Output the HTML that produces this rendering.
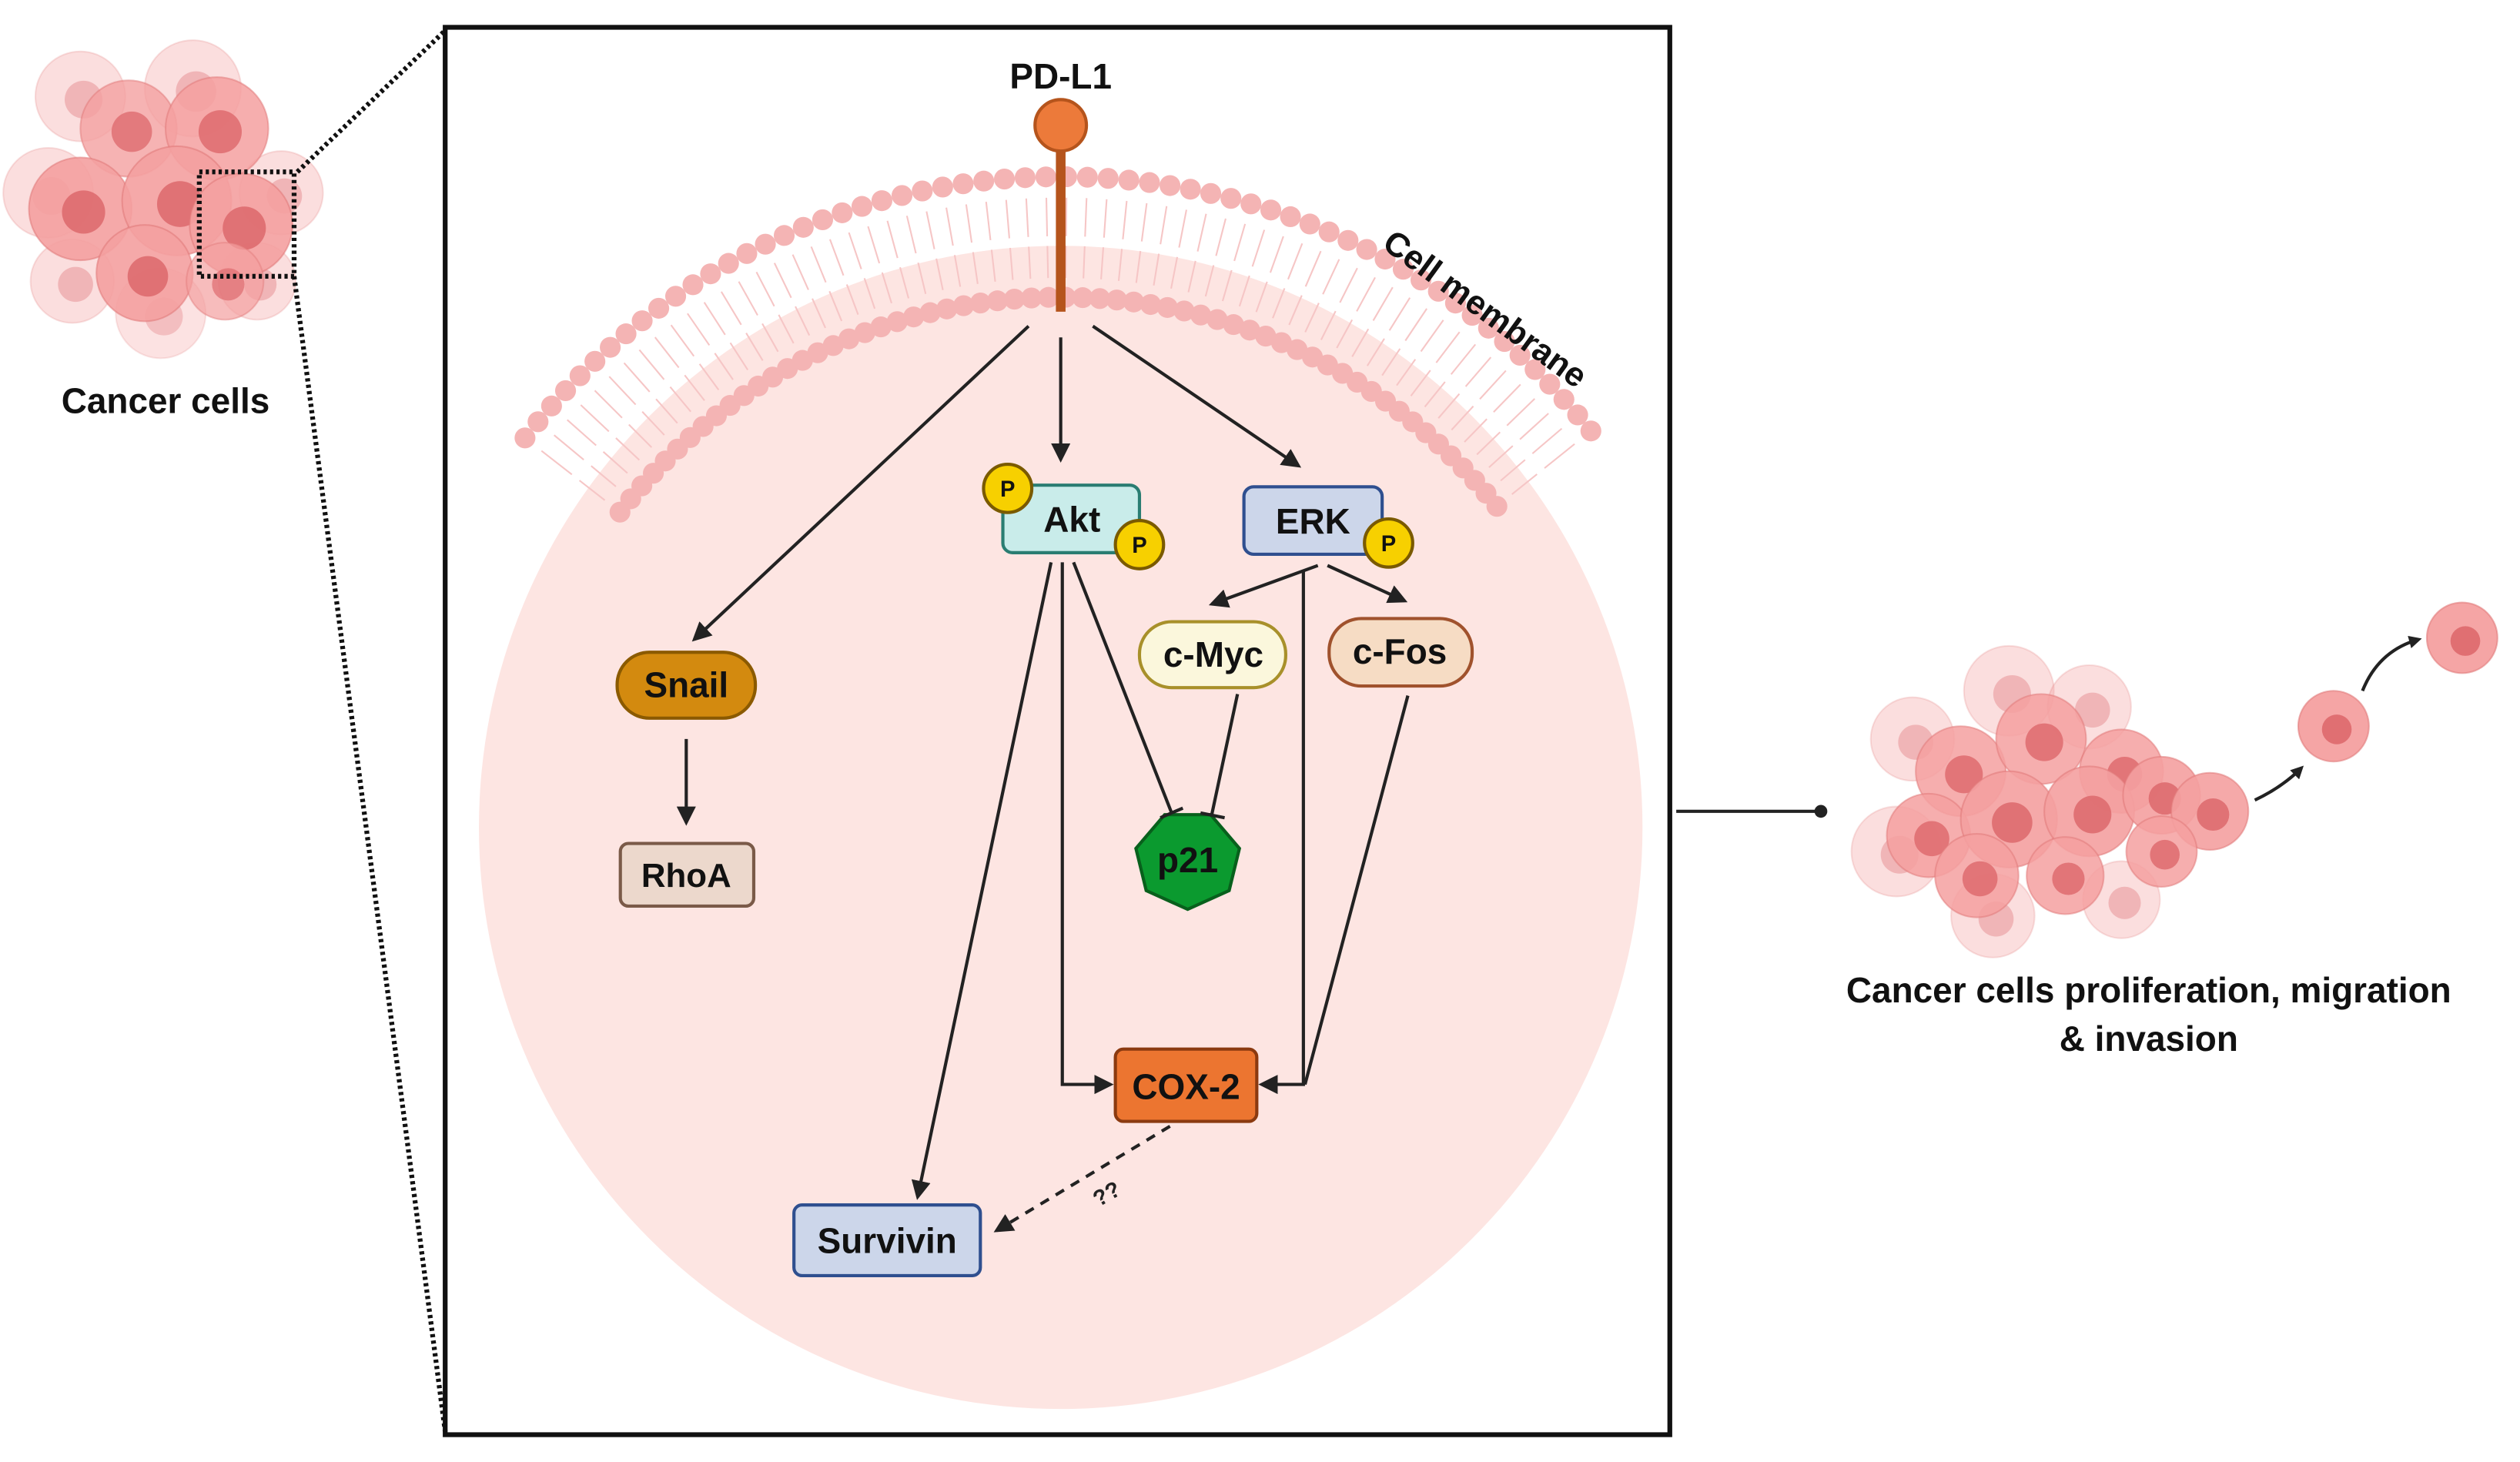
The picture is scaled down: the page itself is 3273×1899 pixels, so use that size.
<!DOCTYPE html>
<html><head><meta charset="utf-8"><style>
html,body{margin:0;padding:0;background:#fff;}
svg{display:block;}
text{font-family:"Liberation Sans",Arial,sans-serif;font-weight:bold;}
</style></head><body>
<svg id="s" width="3273" height="1899" viewBox="0 0 1568 910" preserveAspectRatio="none" xmlns="http://www.w3.org/2000/svg">
<defs>
<marker id="ah" markerWidth="8" markerHeight="8" refX="6" refY="4" orient="auto" markerUnits="userSpaceOnUse"><path d="M0,0 L8,4 L0,8 Z" fill="#222"/></marker>
<marker id="ah2" markerWidth="12" markerHeight="12" refX="10" refY="6" orient="auto" markerUnits="userSpaceOnUse"><path d="M0,0 L12,6 L0,12 Z" fill="#222"/></marker>
</defs>
<rect width="1568" height="910" fill="#fff"/>
<rect x="277" y="17" width="762" height="876" fill="#fff" stroke="#111" stroke-width="3"/>
<circle cx="660" cy="515" r="362" fill="#fde5e2"/>
<g id="mem"></g>
<text x="660" y="55" font-size="22" text-anchor="middle" fill="#111">PD-L1</text>
<line x1="660" y1="92" x2="660" y2="194" stroke="#b5541c" stroke-width="6"/>
<circle cx="660" cy="78" r="16" fill="#ec7a3a" stroke="#b5541c" stroke-width="2"/>
<text x="920" y="198" font-size="21" fill="#111" text-anchor="middle" transform="rotate(36 920 198)">Cell membrane</text>
<polygon id="hep" fill="#0b9a2f" stroke="#08601c" stroke-width="2"/>
<g stroke="#222" stroke-width="2" fill="none">
<line x1="640" y1="203" x2="432" y2="398" marker-end="url(#ah2)"/>
<line x1="660" y1="210" x2="660" y2="286" marker-end="url(#ah2)"/>
<line x1="680" y1="203" x2="808" y2="290" marker-end="url(#ah2)"/>
<line x1="427" y1="460" x2="427" y2="512" marker-end="url(#ah2)"/>
<line x1="820" y1="352" x2="754" y2="376" marker-end="url(#ah2)"/>
<line x1="826" y1="352" x2="874" y2="374" marker-end="url(#ah2)"/>
<polyline points="811,355 811,675 785,675" marker-end="url(#ah2)"/>
<polyline points="876,433 812,675"/>
<line x1="654" y1="350" x2="571" y2="745" marker-end="url(#ah2)"/>
<polyline points="661,350 661,675 691,675" marker-end="url(#ah2)"/>
<line x1="668" y1="350" x2="729" y2="506"/>
<line x1="722" y1="509" x2="736" y2="503"/>
<line x1="770" y1="432" x2="754" y2="507"/>
<line x1="747" y1="506" x2="762" y2="509"/>
<line x1="728" y1="701" x2="620" y2="766" stroke-dasharray="6,5" marker-end="url(#ah2)"/>
</g>
<text x="688" y="748" font-size="14" fill="#222" transform="rotate(-30 688 742)" text-anchor="middle">??</text>
<rect x="624" y="302" width="85" height="42" rx="6" fill="#c9ecea" stroke="#2a7d72" stroke-width="2"/>
<text x="667" y="331" font-size="22" text-anchor="middle" fill="#111">Akt</text>
<rect x="774" y="303" width="86" height="42" rx="6" fill="#ccd6ea" stroke="#2f4f8f" stroke-width="2"/>
<text x="817" y="332" font-size="22" text-anchor="middle" fill="#111">ERK</text>
<g font-size="14" text-anchor="middle">
<circle cx="627" cy="304" r="15" fill="#f7d000" stroke="#7a5a00" stroke-width="2"/><text x="627" y="309" fill="#111">P</text>
<circle cx="709" cy="339" r="15" fill="#f7d000" stroke="#7a5a00" stroke-width="2"/><text x="709" y="344" fill="#111">P</text>
<circle cx="864" cy="338" r="15" fill="#f7d000" stroke="#7a5a00" stroke-width="2"/><text x="864" y="343" fill="#111">P</text>
</g>
<rect x="384" y="406" width="86" height="41" rx="20" fill="#d38a0f" stroke="#8b5a00" stroke-width="2"/>
<text x="427" y="434" font-size="22" text-anchor="middle" fill="#111">Snail</text>
<rect x="386" y="525" width="83" height="39" rx="5" fill="#ecd8cc" stroke="#7a5a48" stroke-width="2"/>
<text x="427" y="552" font-size="21" text-anchor="middle" fill="#111">RhoA</text>
<rect x="709" y="387" width="91" height="41" rx="20" fill="#fbf7dc" stroke="#a8902a" stroke-width="2"/>
<text x="755" y="415" font-size="22" text-anchor="middle" fill="#111">c-Myc</text>
<rect x="827" y="385" width="89" height="42" rx="20" fill="#f6dcc4" stroke="#a0522d" stroke-width="2"/>
<text x="871" y="413" font-size="22" text-anchor="middle" fill="#111">c-Fos</text>
<text x="739" y="543" font-size="22" text-anchor="middle" fill="#111">p21</text>
<rect x="694" y="653" width="88" height="45" rx="5" fill="#ec7530" stroke="#8b3a10" stroke-width="2"/>
<text x="738" y="684" font-size="22" text-anchor="middle" fill="#111">COX-2</text>
<rect x="494" y="750" width="116" height="44" rx="5" fill="#ccd6ea" stroke="#2f4f8f" stroke-width="2"/>
<text x="552" y="780" font-size="22" text-anchor="middle" fill="#111">Survivin</text>
<g id="lc"></g>
<rect x="124" y="107" width="59" height="65" fill="none" stroke="#111" stroke-width="3" stroke-dasharray="2,2"/>
<line x1="185" y1="107" x2="277" y2="19" stroke="#111" stroke-width="3" stroke-dasharray="2,2"/>
<line x1="183" y1="172" x2="277" y2="891" stroke="#111" stroke-width="3" stroke-dasharray="2,2"/>
<text x="103" y="257" font-size="22" text-anchor="middle" fill="#111">Cancer cells</text>
<line x1="1043" y1="505" x2="1133" y2="505" stroke="#222" stroke-width="2"/>
<circle cx="1133" cy="505" r="4" fill="#222"/>
<g id="rc"></g>
<path d="M1403,498 Q1420,490 1432,478" stroke="#222" stroke-width="2" fill="none" marker-end="url(#ah)"/>
<path d="M1470,430 Q1480,405 1505,398" stroke="#222" stroke-width="2" fill="none" marker-end="url(#ah)"/>
<text x="1337" y="624" font-size="22" text-anchor="middle" fill="#111">Cancer cells proliferation, migration</text>
<text x="1337" y="654" font-size="22" text-anchor="middle" fill="#111">&amp; invasion</text>
</svg>
<script>
var NS="http://www.w3.org/2000/svg";
function el(p,t,a){var e=document.createElementNS(NS,t);for(var k in a)e.setAttribute(k,a[k]);p.appendChild(e);return e;}
var m=document.getElementById("mem");
var cx=660,cy=533;
for(var a=-52;a<=52.01;a+=1.75){var r=a*Math.PI/180,s=Math.sin(r),c=Math.cos(r);
 el(m,"line",{x1:cx+410*s,y1:cy-410*c,x2:cx+386*s,y2:cy-386*c,stroke:"#f6c6c6","stroke-width":1});
 el(m,"line",{x1:cx+380*s,y1:cy-380*c,x2:cx+360*s,y2:cy-360*c,stroke:"#f6c6c6","stroke-width":1});
 el(m,"circle",{cx:cx+423*s,cy:cy-423*c,r:6.5,fill:"#f4b4b4"});
 el(m,"circle",{cx:cx+348*s,cy:cy-348*c,r:6.5,fill:"#f4b4b4"});
}
var h=document.getElementById("hep"),pts=[];
for(var i=0;i<7;i++){var t=(i/7)*2*Math.PI-Math.PI/2+Math.PI/7;pts.push((739+33*Math.cos(t)).toFixed(1)+","+(535+31*Math.sin(t)).toFixed(1));}
h.setAttribute("points",pts.join(" "));
function cell(g,x,y,r,op){el(g,"circle",{cx:x,cy:y,r:r,fill:"#f4a0a0","fill-opacity":op,stroke:"#e07878","stroke-opacity":op*0.6,"stroke-width":1});
 el(g,"circle",{cx:x+2,cy:y+2,r:r*0.42,fill:"#de6b6f","fill-opacity":op});}
var lc=document.getElementById("lc");
[[50,60,28,.35],[120,55,30,.35],[30,120,28,.35],[175,120,26,.35],[100,195,28,.3],[160,175,24,.35],[45,175,26,.35],
 [80,80,30,.8],[135,80,32,.85],[50,130,32,.9],[110,125,34,.9],[150,140,32,.9],[90,170,30,.9],[140,175,24,.7]].forEach(function(c){cell(lc,c[0],c[1],c[2],c[3]);});
var rc=document.getElementById("rc");
[[1190,460,26,.35],[1250,430,28,.35],[1300,440,26,.35],[1180,530,28,.35],[1240,570,26,.35],[1320,560,24,.35],
 [1220,480,28,.85],[1270,460,28,.85],[1320,480,26,.85],[1200,520,26,.85],[1250,510,30,.9],[1300,505,28,.9],[1345,495,24,.9],[1375,505,24,.9],[1230,545,26,.85],[1285,545,24,.85],[1345,530,22,.85]].forEach(function(c){cell(rc,c[0],c[1],c[2],c[3]);});
cell(rc,1452,452,22,.95);cell(rc,1532,397,22,.95);
</script>
</body></html>
